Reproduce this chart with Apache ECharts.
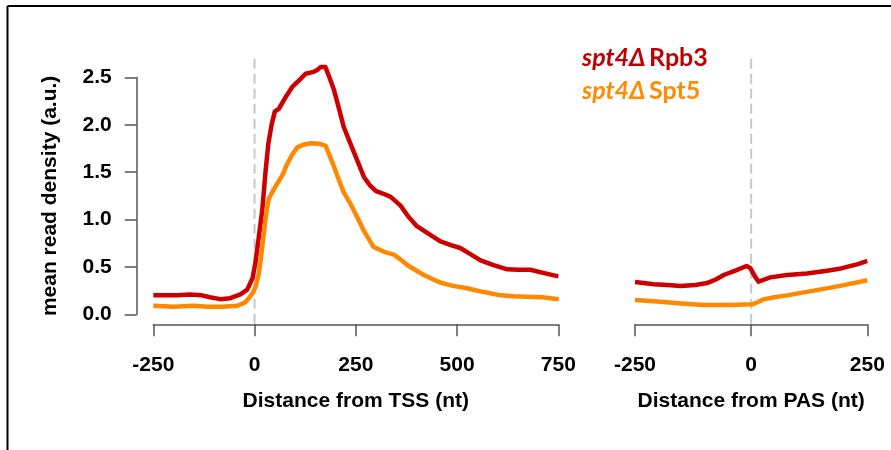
<!DOCTYPE html>
<html>
<head>
<meta charset="utf-8">
<script src="https://cdn.jsdelivr.net/npm/echarts@6/dist/echarts.min.js"></script>
<style>
html,body{margin:0;padding:0;background:#fff;}
#c{width:891px;height:450px;}
</style>
</head>
<body>
<div id="c"></div>
<script>
// ---- Data ----
const tssX       = [-250,-220,-190,-160,-130,-110,-85,-60,-35,-18,-5,2,10,19,27,34,42,50,60,75,93,110,126,146,155,163,175,185,196,208,220,235,253,270,285,300,320,336,360,380,401,430,459,485,508,535,558,590,624,650,681,710,750];
const rpb3Tss     = [0.20,0.20,0.20,0.21,0.20,0.18,0.16,0.17,0.21,0.26,0.38,0.54,0.80,1.10,1.50,1.80,2.00,2.14,2.17,2.28,2.40,2.47,2.54,2.56,2.58,2.61,2.61,2.50,2.37,2.18,1.98,1.82,1.63,1.45,1.36,1.30,1.27,1.24,1.15,1.03,0.93,0.85,0.77,0.73,0.70,0.63,0.57,0.52,0.475,0.47,0.47,0.44,0.40];
const tssX2      = [-250,-200,-150,-117,-80,-43,-25,-18,-5,2.5,10,15,20,25,30,35,45,56,70,81,92,105,120,138,160,175,185,196,208,220,235,253,270,294,320,344,360,377,400,418,440,459,490,525,560,607,640,673,710,751];
const spt5Tss     = [0.09,0.08,0.09,0.08,0.08,0.09,0.12,0.15,0.22,0.29,0.42,0.57,0.75,0.93,1.10,1.22,1.30,1.38,1.48,1.59,1.68,1.76,1.79,1.805,1.80,1.78,1.68,1.56,1.42,1.29,1.18,1.03,0.88,0.71,0.66,0.63,0.58,0.52,0.46,0.415,0.37,0.335,0.30,0.275,0.24,0.20,0.19,0.185,0.18,0.16];

const pasX       = [-250,-209,-180,-152,-120,-95,-75,-59,-30,-10,-2,8,16,30,41,77,120,163,190,206,230,250];
const rpb3Pas     = [0.34,0.317,0.31,0.30,0.31,0.33,0.37,0.415,0.47,0.51,0.49,0.40,0.345,0.37,0.39,0.415,0.43,0.46,0.48,0.50,0.53,0.563];
const pasX2      = [-250,-195,-150,-102,-44,2,15,27,50,77,135,192,250];
const spt5Pas     = [0.15,0.133,0.115,0.098,0.098,0.105,0.13,0.158,0.18,0.20,0.25,0.30,0.36];

const tssTicks   = [-250, 750, 250];   // min, max, interval
const pasTicks   = [-250, 250, 250];
const yTicks     = [0, 2.5, 0.5];
const refLineY   = [-0.1, 2.72];       // extent of dashed reference lines at 0

const xTitles    = ['Distance from TSS (nt)', 'Distance from PAS (nt)'];
const yTitle     = 'mean read density (a.u.)';
const legendNames = ['Rpb3', 'Spt5'];
const legendPrefix = 'spt4Δ';

const RED = '#cc0000';
const ORANGE = '#ff8800';

const zip = (xs, ys) => xs.map((x, i) => [x, ys[i]]);

const chart = echarts.init(document.getElementById('c'), null, {renderer: 'canvas'});

const labelFont = () => ({fontFamily: 'Liberation Sans, Arial, sans-serif', fontWeight: 'bold', fontSize: 21, color: '#000'});
const axisLine = () => ({show: true, onZero: false, lineStyle: {color: '#555', width: 1.5}});
const axisTick = () => ({show: true, length: 12, lineStyle: {color: '#555', width: 1.5}});

function xAxis(idx, ticks, title) {
  return {
    type: 'value', gridIndex: idx, min: ticks[0], max: ticks[1], interval: ticks[2],
    position: 'bottom', offset: 10,
    axisLine: axisLine(), axisTick: axisTick(), splitLine: {show: false},
    axisLabel: Object.assign({margin: 30}, labelFont()),
    name: title, nameLocation: 'middle', nameGap: 66,
    nameTextStyle: labelFont()
  };
}

const lineSeries = (name, xi, data, color, z) => ({
  name: name, type: 'line', xAxisIndex: xi, yAxisIndex: xi, data: data,
  showSymbol: false, symbol: 'none', clip: false, z: z,
  lineStyle: {color: color, width: 4.5, join: 'round'}, animation: false
});

const refSeries = (xi) => ({
  type: 'line', xAxisIndex: xi, yAxisIndex: xi,
  data: [[0, refLineY[0]], [0, refLineY[1]]],
  showSymbol: false, symbol: 'none', clip: false, z: 1, silent: true,
  lineStyle: {color: '#c8c8c8', width: 2, type: [10, 5]}, animation: false
});

const legendRich = (color) => ({
  i: {fontFamily: 'Lato', fontStyle: 'italic', fontWeight: 'bold', fontSize: 25, fill: color},
  n: {fontFamily: 'Lato', fontWeight: 'bold', fontSize: 25, fill: color}
});

chart.setOption({
  animation: false,
  backgroundColor: '#fff',
  grid: [
    {left: 153.3, right: 891 - 558.3, top: 77.5, bottom: 450 - 314.3},
    {left: 635, right: 891 - 867.3, top: 77.5, bottom: 450 - 314.3}
  ],
  xAxis: [xAxis(0, tssTicks, xTitles[0]), xAxis(1, pasTicks, xTitles[1])],
  yAxis: [
    {
      type: 'value', gridIndex: 0, min: yTicks[0], max: yTicks[1], interval: yTicks[2],
      position: 'left', offset: 16.6,
      axisLine: {show: true, onZero: false, lineStyle: {color: '#555', width: 1.5}},
      axisTick: axisTick(), splitLine: {show: false},
      axisLabel: Object.assign({margin: 25, formatter: v => v.toFixed(1)}, labelFont()),
      name: yTitle, nameLocation: 'middle', nameGap: 76, nameRotate: 90,
      nameTextStyle: labelFont()
    },
    {
      type: 'value', gridIndex: 1, min: yTicks[0], max: yTicks[1], interval: yTicks[2],
      show: false, splitLine: {show: false}
    }
  ],
  series: [
    refSeries(0), refSeries(1),
    lineSeries('Rpb3 TSS', 0, zip(tssX, rpb3Tss), RED, 3),
    lineSeries('Spt5 TSS', 0, zip(tssX2, spt5Tss), ORANGE, 4),
    lineSeries('Rpb3 PAS', 1, zip(pasX, rpb3Pas), RED, 3),
    lineSeries('Spt5 PAS', 1, zip(pasX2, spt5Pas), ORANGE, 4)
  ],
  graphic: [
    {type: 'line', shape: {x1: 7.5, y1: 6, x2: 7.5, y2: 450}, style: {stroke: '#000', lineWidth: 2}},
    {type: 'line', shape: {x1: 7.5, y1: 6, x2: 891, y2: 6}, style: {stroke: '#000', lineWidth: 2}},
    {
      type: 'text', left: 582, top: 45,
      style: {text: '{i|' + legendPrefix + '} {n|' + legendNames[0] + '}', rich: legendRich('#c00000')}
    },
    {
      type: 'text', left: 582, top: 78,
      style: {text: '{i|' + legendPrefix + '} {n|' + legendNames[1] + '}', rich: legendRich('#ff8c00')}
    }
  ]
});
</script>
</body>
</html>
